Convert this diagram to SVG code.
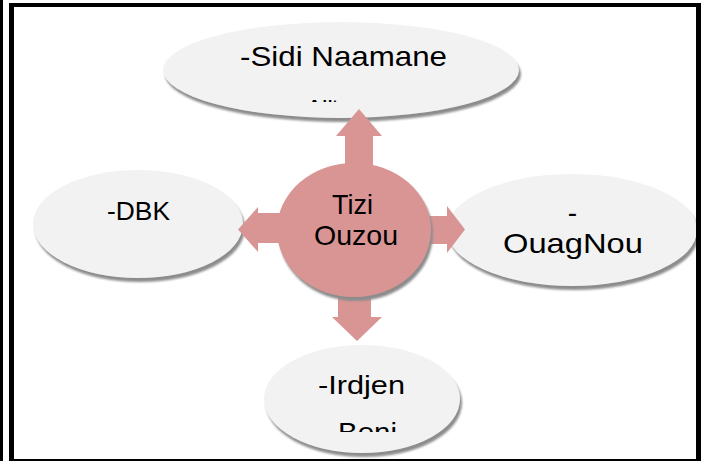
<svg xmlns="http://www.w3.org/2000/svg" width="706" height="461" viewBox="0 0 706 461">
<style>
.ell{fill:#f2f2f2;filter:url(#sh)}
.hub{fill:#d99594;filter:url(#sh)}
.arr{fill:#d99594}
.t{font-family:"Liberation Sans","DejaVu Sans",sans-serif;fill:#000;text-anchor:middle}
.big{font-size:28px}
.mid{font-size:25px}
.frame{fill:#000}
</style>
<defs>
<filter id="sh" x="-10%" y="-15%" width="125%" height="140%">
<feGaussianBlur in="SourceAlpha" stdDeviation="1.2"/>
<feOffset dx="2" dy="4" result="b"/>
<feFlood flood-color="#8c8c8c"/>
<feComposite in2="b" operator="in"/>
<feMerge><feMergeNode/><feMergeNode in="SourceGraphic"/></feMerge>
</filter>
<clipPath id="clipTop"><rect x="160" y="80" width="360" height="22"/></clipPath>
<clipPath id="clipBot"><rect x="260" y="405" width="210" height="27"/></clipPath>
</defs>
<rect width="706" height="461" fill="#fff"/>

<g id="node-top">
<ellipse class="ell" cx="341" cy="70" rx="178" ry="48"/>
<text class="t big" x="343.5" y="66" textLength="207" lengthAdjust="spacingAndGlyphs">-Sidi Naamane</text>
<text class="t big" x="322" y="119" clip-path="url(#clipTop)">Aït</text>
</g>
<g id="node-left">
<ellipse class="ell" cx="138" cy="224" rx="105" ry="54"/>
<text class="t mid" x="138.5" y="220" textLength="63" lengthAdjust="spacingAndGlyphs">-DBK</text>
</g>
<g id="node-right">
<ellipse class="ell" cx="572" cy="230" rx="125" ry="56"/>
<text class="t big" x="572.5" y="222">-</text>
<text class="t big" x="573" y="253" textLength="140" lengthAdjust="spacingAndGlyphs">OuagNou</text>
</g>
<g id="node-bottom">
<ellipse class="ell" cx="362" cy="399" rx="98" ry="54"/>
<text class="t mid" x="361.5" y="394" textLength="87" lengthAdjust="spacingAndGlyphs">-Irdjen</text>
<text class="t mid" x="367.5" y="441" textLength="59" lengthAdjust="spacingAndGlyphs" clip-path="url(#clipBot)">Beni</text>
</g>

<g id="connectors">
<polygon class="arr" points="345,172 345,136 336,136 359,109 382,136 373,136 373,172"/>
<polygon class="arr" points="290,213 258,213 258,207 238,229.5 258,252 258,243 290,243"/>
<polygon class="arr" points="420,216 447,216 447,206 465,229.5 447,253 447,244 420,244"/>
<polygon class="arr" points="338,288 371,288 371,317 382,317 357,341 332,317 338,317"/>
</g>

<g id="node-center">
<ellipse class="hub" cx="354" cy="230" rx="77" ry="67"/>
<text class="t big" x="352.5" y="214" textLength="41" lengthAdjust="spacingAndGlyphs">Tizi</text>
<text class="t big" x="356" y="245" textLength="84" lengthAdjust="spacingAndGlyphs">Ouzou</text>
</g>

<g id="frame">
<rect class="frame" x="0" y="0" width="3" height="461"/>
<rect class="frame" x="9" y="3" width="5" height="458"/>
<rect class="frame" x="9" y="3" width="692" height="4"/>
<rect class="frame" x="696" y="3" width="5" height="458"/>
<rect class="frame" x="9" y="459" width="692" height="2"/>
</g>
</svg>
